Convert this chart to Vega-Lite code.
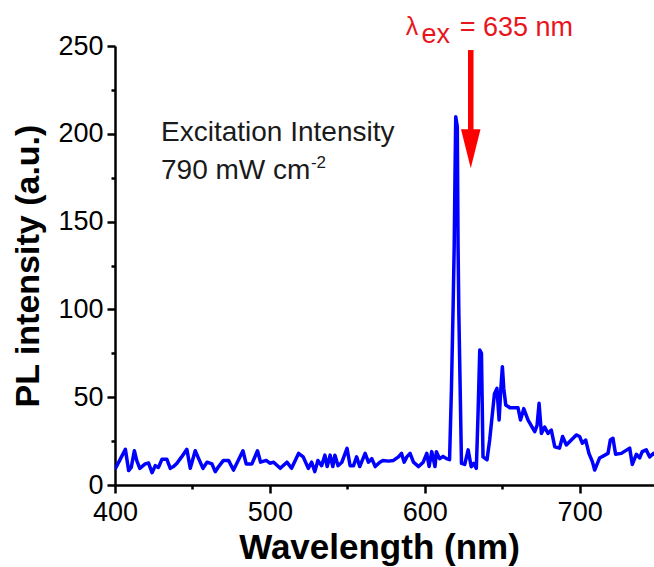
{
  "$schema": "https://vega.github.io/schema/vega-lite/v6.json",
  "autosize": "none",
  "width": 539,
  "height": 439,
  "padding": {"left": 115, "top": 46, "right": 0, "bottom": 82},
  "background": "white",
  "config": {
    "view": {"stroke": null},
    "font": "Liberation Sans",
    "axis": {"grid": false, "domainColor": "black", "tickColor": "black", "labelColor": "black", "titleColor": "black", "domainWidth": 2.5, "tickWidth": 2.5, "labelFont": "Liberation Sans", "titleFont": "Liberation Sans"}
  },
  "datasets": {
    "spectrum": [
      {"w": 400, "v": 9}, {"w": 403, "v": 14}, {"w": 406.7, "v": 20.3}, {"w": 408.8, "v": 8.2}, {"w": 410.5, "v": 10},
      {"w": 412.5, "v": 19.5}, {"w": 414, "v": 14}, {"w": 416, "v": 9.5}, {"w": 419.5, "v": 12}, {"w": 421.7, "v": 12.5},
      {"w": 423.9, "v": 7}, {"w": 426, "v": 11}, {"w": 428, "v": 10}, {"w": 430.3, "v": 14.6}, {"w": 433.5, "v": 14.6},
      {"w": 435.7, "v": 9.5}, {"w": 437.8, "v": 10.5}, {"w": 440, "v": 12.4}, {"w": 443, "v": 16}, {"w": 446.4, "v": 20.3},
      {"w": 448.6, "v": 9.5}, {"w": 451.8, "v": 19.5}, {"w": 454, "v": 15}, {"w": 456.8, "v": 9.5}, {"w": 459.4, "v": 13},
      {"w": 462.6, "v": 12}, {"w": 464.7, "v": 7.6}, {"w": 466.9, "v": 10.5}, {"w": 470, "v": 14}, {"w": 473.3, "v": 14},
      {"w": 476.5, "v": 8.5}, {"w": 479, "v": 13}, {"w": 482.6, "v": 19.5}, {"w": 484.7, "v": 12}, {"w": 488.4, "v": 12},
      {"w": 492, "v": 19.5}, {"w": 494, "v": 13}, {"w": 497.6, "v": 14}, {"w": 500, "v": 12.4}, {"w": 502.4, "v": 13},
      {"w": 506.7, "v": 9.5}, {"w": 511, "v": 13}, {"w": 514, "v": 9.5}, {"w": 518.5, "v": 18}, {"w": 521.5, "v": 16},
      {"w": 524.8, "v": 9.5}, {"w": 527, "v": 13}, {"w": 529, "v": 7.6}, {"w": 531, "v": 14}, {"w": 533.4, "v": 11},
      {"w": 535.5, "v": 17}, {"w": 537, "v": 10.5}, {"w": 538.9, "v": 17}, {"w": 540.6, "v": 10.5}, {"w": 542, "v": 17},
      {"w": 544, "v": 11}, {"w": 546.5, "v": 13}, {"w": 549.8, "v": 20.9}, {"w": 551.8, "v": 11}, {"w": 554, "v": 11},
      {"w": 556, "v": 16}, {"w": 558, "v": 10.5}, {"w": 561.5, "v": 18}, {"w": 563.6, "v": 13}, {"w": 565.8, "v": 15},
      {"w": 568, "v": 10.5}, {"w": 571, "v": 13}, {"w": 573, "v": 14}, {"w": 576.6, "v": 13.6}, {"w": 579.8, "v": 14},
      {"w": 583, "v": 16}, {"w": 585, "v": 18}, {"w": 586.7, "v": 13}, {"w": 588.4, "v": 16}, {"w": 590.5, "v": 18},
      {"w": 592.7, "v": 13}, {"w": 596, "v": 10.5}, {"w": 599, "v": 13}, {"w": 601.3, "v": 18}, {"w": 602.8, "v": 10.5},
      {"w": 604.5, "v": 19}, {"w": 606.6, "v": 10.5}, {"w": 607.5, "v": 19}, {"w": 609.5, "v": 15}, {"w": 611.8, "v": 16.3},
      {"w": 614, "v": 15}, {"w": 616, "v": 14.4}, {"w": 617.2, "v": 54}, {"w": 618.3, "v": 101.5}, {"w": 619, "v": 135.7},
      {"w": 619.5, "v": 175.6}, {"w": 620, "v": 209.7}, {"w": 621, "v": 204}, {"w": 621.5, "v": 135.7}, {"w": 622, "v": 97.8},
      {"w": 623.7, "v": 12.3}, {"w": 625.8, "v": 11.7}, {"w": 628, "v": 20}, {"w": 630, "v": 10.4}, {"w": 631.6, "v": 12.3},
      {"w": 633.3, "v": 9.5}, {"w": 634.4, "v": 40.8}, {"w": 635.5, "v": 76.9}, {"w": 636.6, "v": 75}, {"w": 637.6, "v": 16},
      {"w": 640.2, "v": 14.4}, {"w": 641.9, "v": 25.6}, {"w": 645, "v": 52}, {"w": 646.6, "v": 55}, {"w": 648, "v": 37},
      {"w": 649, "v": 53}, {"w": 650.1, "v": 67.4}, {"w": 651, "v": 55}, {"w": 652.3, "v": 45.6}, {"w": 655, "v": 44},
      {"w": 660.2, "v": 44}, {"w": 661.8, "v": 37}, {"w": 663.9, "v": 43.5}, {"w": 666.7, "v": 37}, {"w": 671, "v": 30.4},
      {"w": 672.5, "v": 34}, {"w": 673.8, "v": 46.5}, {"w": 675.3, "v": 29.4}, {"w": 677.4, "v": 33}, {"w": 679.6, "v": 29.4},
      {"w": 681.7, "v": 31.3}, {"w": 683.9, "v": 21.8}, {"w": 687, "v": 21}, {"w": 689, "v": 27.6}, {"w": 691.4, "v": 22.8},
      {"w": 694.6, "v": 25.6}, {"w": 697.8, "v": 28.5}, {"w": 700, "v": 27.6}, {"w": 701.7, "v": 23.8}, {"w": 703.9, "v": 25.6},
      {"w": 706, "v": 18}, {"w": 708.2, "v": 13.3}, {"w": 709.7, "v": 8.5}, {"w": 712.9, "v": 15.4}, {"w": 718.3, "v": 18},
      {"w": 719.8, "v": 25.6}, {"w": 721.5, "v": 26.6}, {"w": 723.2, "v": 17.5}, {"w": 726.9, "v": 18}, {"w": 732.3, "v": 21},
      {"w": 734, "v": 11.7}, {"w": 736.6, "v": 17.5}, {"w": 738.7, "v": 15.4}, {"w": 740.4, "v": 19}, {"w": 743, "v": 20},
      {"w": 745.2, "v": 16}, {"w": 747.7, "v": 18}, {"w": 750, "v": 16}
    ]
  },
  "layer": [
    {
      "data": {"name": "spectrum"},
      "mark": {"type": "line", "color": "#0000ff", "strokeWidth": 3.5, "clip": true, "strokeJoin": "round"},
      "encoding": {
        "x": {
          "field": "w", "type": "quantitative",
          "scale": {"domain": [400, 748], "nice": false, "zero": false},
          "axis": {
            "values": [400, 450, 500, 550, 600, 650, 700],
            "labelExpr": "datum.value % 100 === 0 ? datum.label : ''",
            "tickSize": {"condition": {"test": "datum.value % 100 === 0", "value": 8}, "value": 4},
            "labelFontSize": 27, "labelPadding": 6, "labelOverlap": false, "labelFlush": false,
            "title": "Wavelength (nm)", "titleFontSize": 35, "titleFontWeight": "bold", "titlePadding": 5, "titleX": 264
          }
        },
        "y": {
          "field": "v", "type": "quantitative",
          "scale": {"domain": [0, 250], "nice": false},
          "axis": {
            "values": [0, 25, 50, 75, 100, 125, 150, 175, 200, 225, 250],
            "labelExpr": "datum.value % 50 === 0 ? datum.label : ''",
            "tickSize": {"condition": {"test": "datum.value % 50 === 0", "value": 8}, "value": 4},
            "labelFontSize": 27, "labelPadding": 4, "labelOverlap": false, "labelFlush": false,
            "title": "PL intensity (a.u.)", "titleFontSize": 34, "titleFontWeight": "bold", "titlePadding": 12
          }
        }
      }
    },
    {
      "data": {"values": [{"w": 429.7, "v": 196.1, "t": "Excitation Intensity"}, {"w": 429.7, "v": 174.3, "t": "790 mW cm"}]},
      "mark": {"type": "text", "align": "left", "baseline": "alphabetic", "fontSize": 28, "color": "#1a1a1a"},
      "encoding": {"x": {"field": "w", "type": "quantitative"}, "y": {"field": "v", "type": "quantitative"}, "text": {"field": "t"}}
    },
    {
      "data": {"values": [{"w": 526.5, "v": 180.5, "t": "-2"}]},
      "mark": {"type": "text", "align": "left", "baseline": "alphabetic", "fontSize": 17, "color": "#1a1a1a"},
      "encoding": {"x": {"field": "w", "type": "quantitative"}, "y": {"field": "v", "type": "quantitative"}, "text": {"field": "t"}}
    },
    {
      "data": {"values": [{"w": 587.7, "v": 256.3, "t": "λ"}]},
      "mark": {"type": "text", "align": "left", "baseline": "alphabetic", "fontSize": 25, "color": "#e8161c"},
      "encoding": {"x": {"field": "w", "type": "quantitative"}, "y": {"field": "v", "type": "quantitative"}, "text": {"field": "t"}}
    },
    {
      "data": {"values": [{"w": 597.9, "v": 251.5, "t": "ex"}, {"w": 622.6, "v": 255.7, "t": "= 635 nm"}]},
      "mark": {"type": "text", "align": "left", "baseline": "alphabetic", "fontSize": 27, "color": "#e8161c"},
      "encoding": {"x": {"field": "w", "type": "quantitative"}, "y": {"field": "v", "type": "quantitative"}, "text": {"field": "t"}}
    },
    {
      "data": {"values": [{"w": 629.7, "v": 247.7, "v2": 197}]},
      "mark": {"type": "rule", "color": "#ff0000", "strokeWidth": 5.5},
      "encoding": {"x": {"field": "w", "type": "quantitative"}, "y": {"field": "v", "type": "quantitative"}, "y2": {"field": "v2"}}
    },
    {
      "data": {"values": [{"w": 629.7, "v": 191.5}]},
      "mark": {"type": "point", "filled": true, "color": "#ff0000", "opacity": 1, "strokeWidth": 0, "shape": "M-0.5,-1L0.5,-1L0,1Z", "size": 1521},
      "encoding": {"x": {"field": "w", "type": "quantitative"}, "y": {"field": "v", "type": "quantitative"}}
    }
  ]
}
